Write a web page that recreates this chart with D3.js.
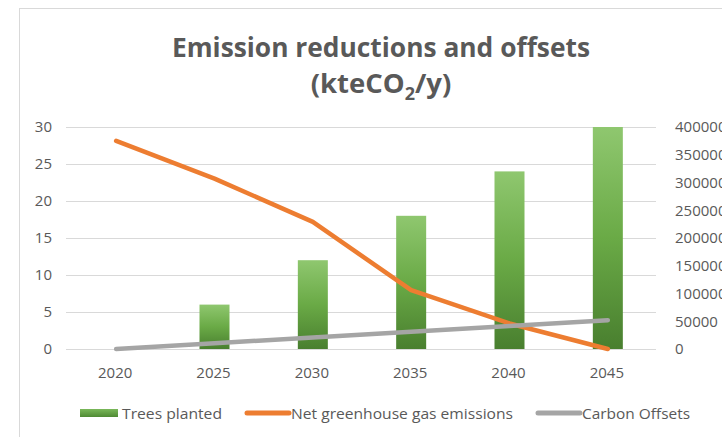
<!DOCTYPE html>
<html><head><meta charset="utf-8">
<script src="https://cdn.jsdelivr.net/npm/d3@7"></script>
<style>
html,body{margin:0;padding:0;background:#fff;}
svg{display:block;font-family:"Open Sans",sans-serif;}
</style></head>
<body><svg id="c" width="722" height="437"></svg>
<script>
const years = ["2020","2025","2030","2035","2040","2045"];
const treesPlanted = [0, 6, 12, 18, 24, 30];
const netEmissions = [375000, 307000, 229000, 106000, 46000, 0];
const carbonOffsets = [0, 10400, 20800, 31200, 41600, 52000];
const leftTicks = [0, 5, 10, 15, 20, 25, 30];
const rightTicks = [0, 50000, 100000, 150000, 200000, 250000, 300000, 350000, 400000];
const seriesNames = ["Trees planted", "Net greenhouse gas emissions", "Carbon Offsets"];

const svg = d3.select("#c");
const textColor = "#595959";
const m = {left: 66, right: 656, top: 127, bottom: 349};

// chart border
svg.append("rect").attr("x", 19.5).attr("y", 8.5).attr("width", 740).attr("height", 440)
  .attr("fill", "none").attr("stroke", "#d9d9d9").attr("stroke-width", 1);

const defs = svg.append("defs");
const g1 = defs.append("linearGradient").attr("id", "barGrad").attr("x1", 0).attr("y1", 0).attr("x2", 0).attr("y2", 1);
g1.append("stop").attr("offset", "0%").attr("stop-color", "#8fc76f");
g1.append("stop").attr("offset", "50%").attr("stop-color", "#6aaa46");
g1.append("stop").attr("offset", "100%").attr("stop-color", "#497f2f");
const g2 = defs.append("linearGradient").attr("id", "legGrad").attr("x1", 0).attr("y1", 0).attr("x2", 0).attr("y2", 1);
g2.append("stop").attr("offset", "0%").attr("stop-color", "#7ab85a");
g2.append("stop").attr("offset", "100%").attr("stop-color", "#4f8a34");

const x = d3.scaleBand().domain(years).range([m.left, m.right]).paddingInner(0).paddingOuter(0);
const yL = d3.scaleLinear().domain([0, 30]).range([m.bottom, m.top]);
const yR = d3.scaleLinear().domain([0, 400000]).range([m.bottom, m.top]);

// gridlines
svg.append("g").selectAll("line").data(leftTicks).join("line")
  .attr("x1", m.left).attr("x2", m.right)
  .attr("y1", d => Math.round(yL(d)) + 0.5).attr("y2", d => Math.round(yL(d)) + 0.5)
  .attr("stroke", "#d9d9d9").attr("stroke-width", 1);

// left axis
const axL = svg.append("g").attr("transform", `translate(${m.left - 14},0)`)
  .call(d3.axisLeft(yL).tickValues(leftTicks).tickSize(0).tickPadding(0));
axL.select(".domain").remove();
axL.selectAll("text").attr("fill", textColor).style("font-size", "15px").style("font-family", "Open Sans");

// right axis
const axR = svg.append("g").attr("transform", `translate(${m.right + 19},0)`)
  .call(d3.axisRight(yR).tickValues(rightTicks).tickSize(0).tickPadding(0).tickFormat(d3.format("d")));
axR.select(".domain").remove();
axR.selectAll("text").attr("fill", textColor).style("font-size", "15px").style("font-family", "Open Sans");

// x axis
const axX = svg.append("g").attr("transform", `translate(0,${m.bottom + 18})`)
  .call(d3.axisBottom(x).tickSize(0).tickPadding(0));
axX.select(".domain").remove();
axX.selectAll("text").attr("fill", textColor).style("font-size", "15px").style("font-family", "Open Sans");

// bars
const bw = 30;
svg.append("g").selectAll("rect").data(years.map((y, i) => ({y, v: treesPlanted[i]}))).join("rect")
  .attr("x", d => x(d.y) + x.bandwidth() / 2 - bw / 2 + 1)
  .attr("width", bw)
  .attr("y", d => yL(d.v))
  .attr("height", d => yL(0) - yL(d.v))
  .attr("fill", "url(#barGrad)");

// lines
const line = d3.line().x((d, i) => x(years[i]) + x.bandwidth() / 2 + 1).y(d => yR(d));
svg.append("path").datum(netEmissions).attr("d", line)
  .attr("fill", "none").attr("stroke", "#ed7d31").attr("stroke-width", 4.5)
  .attr("stroke-linejoin", "round").attr("stroke-linecap", "round");
svg.append("path").datum(carbonOffsets).attr("d", line)
  .attr("fill", "none").attr("stroke", "#a5a5a5").attr("stroke-width", 4.5)
  .attr("stroke-linejoin", "round").attr("stroke-linecap", "round");

// title
const title = svg.append("text").attr("x", 381).attr("y", 57).attr("text-anchor", "middle")
  .attr("fill", textColor).style("font-size", "26.5px").style("font-weight", "bold")
  .attr("textLength", 418).attr("lengthAdjust", "spacingAndGlyphs");
title.text("Emission reductions and offsets");
const t2 = svg.append("text").attr("x", 381).attr("y", 93).attr("text-anchor", "middle")
  .attr("fill", textColor).style("font-size", "27.5px").style("font-weight", "bold");
t2.append("tspan").text("(kteCO");
t2.append("tspan").attr("dy", 7).style("font-size", "18px").text("2");
t2.append("tspan").attr("dy", -7).text("/y)");

// legend
const leg = svg.append("g");
leg.append("rect").attr("x", 80).attr("y", 409).attr("width", 38).attr("height", 8).attr("fill", "url(#legGrad)");
leg.append("text").attr("x", 122).attr("y", 419).attr("textLength", 100).text(seriesNames[0]);
leg.append("line").attr("x1", 247).attr("x2", 289).attr("y1", 413).attr("y2", 413)
  .attr("stroke", "#ed7d31").attr("stroke-width", 5).attr("stroke-linecap", "round");
leg.append("text").attr("x", 291).attr("y", 419).attr("textLength", 222).text(seriesNames[1]);
leg.append("line").attr("x1", 538).attr("x2", 580).attr("y1", 413).attr("y2", 413)
  .attr("stroke", "#a5a5a5").attr("stroke-width", 5).attr("stroke-linecap", "round");
leg.append("text").attr("x", 582).attr("y", 419).attr("textLength", 108).text(seriesNames[2]);
leg.selectAll("text").attr("fill", textColor).style("font-size", "15px").attr("lengthAdjust", "spacingAndGlyphs");
</script></body></html>
